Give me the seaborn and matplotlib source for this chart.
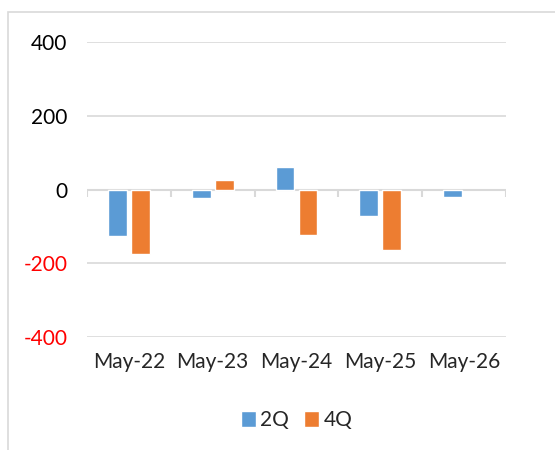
import matplotlib
matplotlib.use('Agg')
import matplotlib.pyplot as plt
import matplotlib.patches as mpatches
import seaborn as sns
import pandas as pd
import numpy as np

sns.set_style('white')
plt.rcParams['font.family'] = ['Lato', 'DejaVu Sans']

# values
months = ['May-22', 'May-23', 'May-24', 'May-25', 'May-26']
q2 = [-126, -24, 61, -72, -20]
q4 = [-175, 26, -123, -164, np.nan]
series = ['2Q', '4Q']
colors = {'2Q': '#5B9BD5', '4Q': '#ED7D31'}
y_ticks = [-400, -200, 0, 200, 400]

df = pd.DataFrame({
    'month': months * 2,
    'value': q2 + q4,
    'series': ['2Q'] * len(months) + ['4Q'] * len(months),
})

fig = plt.figure(figsize=(5.55, 4.5), dpi=100)
ax = fig.add_axes([87 / 555, 1 - 337 / 450, (506 - 87) / 555, (337 - 42) / 450])

# outer chart frame
fig.patches.append(mpatches.Rectangle((8 / 555, -0.1), 1.2, 1 - 12 / 450 + 0.1,
                                      transform=fig.transFigure, fill=False,
                                      edgecolor='#d9d9d9', lw=1.2))

for y in [-400, -200, 200, 400]:
    ax.axhline(y, color='#d9d9d9', lw=1.2, zorder=0)

sns.barplot(data=df, x='month', y='value', hue='series', hue_order=series,
            palette=colors, width=0.55, gap=0.18, ax=ax, saturation=1, zorder=2)

# zero axis with category separators
ax.axhline(0, color='#d9d9d9', lw=1.5, zorder=1)
ax.vlines(np.arange(-0.5, len(months)), -19, 0, color='#d9d9d9', lw=1.5, zorder=1)

ax.set_xlim(-0.5, len(months) - 0.5)
ax.set_ylim(-400, 400)
ax.set_yticks(y_ticks)
ax.set_yticklabels([str(v) for v in y_ticks])
for lab, v in zip(ax.get_yticklabels(), y_ticks):
    lab.set_color('red' if v < 0 else 'black')
ax.tick_params(axis='both', length=0, labelsize=15)
ax.tick_params(axis='y', pad=14)
ax.tick_params(axis='x', pad=11)
ax.set_xlabel('')
ax.set_ylabel('')
for s in ax.spines.values():
    s.set_visible(False)

sns.move_legend(ax, 'upper center', bbox_to_anchor=(0.5, -0.185), ncol=2,
                frameon=False, title=None, fontsize=15, handlelength=0.75,
                handleheight=0.75, handletextpad=0.2, columnspacing=0.7)

fig.savefig('out.png', dpi=100)
